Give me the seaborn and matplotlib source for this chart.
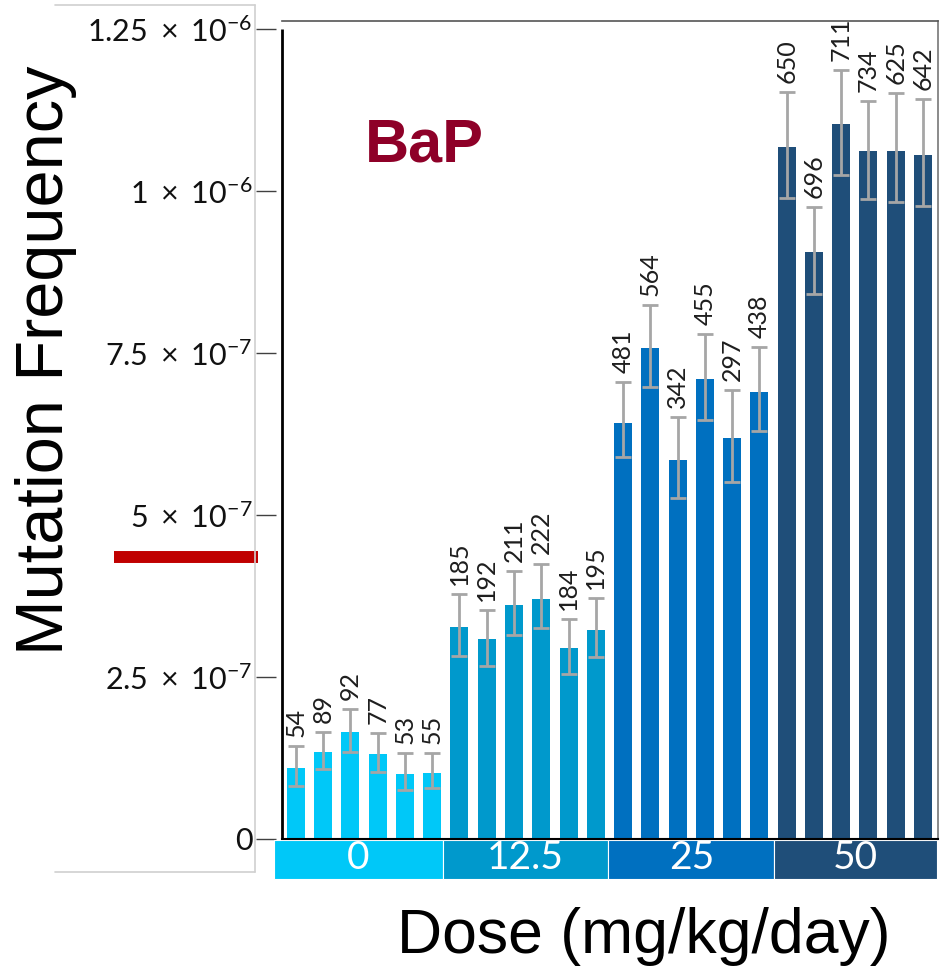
import numpy as np
import pandas as pd
import matplotlib
matplotlib.use("Agg")
import matplotlib.pyplot as plt
import matplotlib.transforms as mtransforms
from matplotlib.lines import Line2D
from matplotlib.patches import Rectangle
import seaborn as sns

# ---------------- data ----------------
doses = ["0", "12.5", "25", "50"]
dose_colors = ["#00C8F8", "#0099CC", "#0070C0", "#1F4E79"]
bars_per_dose = 6

freq = [1.10e-7, 1.34e-7, 1.65e-7, 1.31e-7, 1.00e-7, 1.02e-7,
        3.27e-7, 3.09e-7, 3.61e-7, 3.70e-7, 2.94e-7, 3.23e-7,
        6.42e-7, 7.58e-7, 5.84e-7, 7.10e-7, 6.18e-7, 6.90e-7,
        10.67e-7, 9.05e-7, 11.03e-7, 10.61e-7, 10.62e-7, 10.55e-7]
err_low = [0.82e-7, 1.08e-7, 1.34e-7, 1.03e-7, 0.76e-7, 0.79e-7,
           2.82e-7, 2.67e-7, 3.14e-7, 3.25e-7, 2.55e-7, 2.81e-7,
           5.89e-7, 6.98e-7, 5.26e-7, 6.47e-7, 5.51e-7, 6.29e-7,
           9.89e-7, 8.41e-7, 10.25e-7, 9.87e-7, 9.83e-7, 9.77e-7]
err_high = [1.43e-7, 1.65e-7, 2.00e-7, 1.64e-7, 1.33e-7, 1.33e-7,
            3.78e-7, 3.54e-7, 4.13e-7, 4.25e-7, 3.40e-7, 3.72e-7,
            7.05e-7, 8.24e-7, 6.51e-7, 7.79e-7, 6.93e-7, 7.59e-7,
            11.53e-7, 9.75e-7, 11.87e-7, 11.39e-7, 11.51e-7, 11.41e-7]
counts = [54, 89, 92, 77, 53, 55,
          185, 192, 211, 222, 184, 195,
          481, 564, 342, 455, 297, 438,
          650, 696, 711, 734, 625, 642]

yticks = [0, 2.5e-7, 5e-7, 7.5e-7, 1e-6, 1.25e-6]
ytick_labels = ["0",
                r"$2.5\ \times\ 10^{-7}$",
                r"$5\ \times\ 10^{-7}$",
                r"$7.5\ \times\ 10^{-7}$",
                r"$1\ \times\ 10^{-6}$",
                r"$1.25\ \times\ 10^{-6}$"]
threshold = 4.35e-7
title_text = "BaP"
xlabel_text = "Dose (mg/kg/day)"
ylabel_text = "Mutation Frequency"

# ---------------- style ----------------
sns.set_style("white")
plt.rcParams["font.family"] = ["Lato", "DejaVu Sans"]
plt.rcParams["mathtext.fontset"] = "custom"
plt.rcParams["mathtext.rm"] = "Lato"
plt.rcParams["mathtext.it"] = "Lato:italic"
plt.rcParams["mathtext.bf"] = "Lato:bold"
plt.rcParams["mathtext.default"] = "regular"

n = len(freq)
df = pd.DataFrame({
    "idx": np.arange(n),
    "freq": freq,
    "dose": np.repeat(doses, bars_per_dose),
})

W, H = 943, 968
fig = plt.figure(figsize=(W / 100, H / 100), dpi=100)
ax = fig.add_axes([282 / W, (H - 839) / H, (938 - 282) / W, (839 - 21) / H])

sns.barplot(data=df, x="idx", y="freq", hue="dose", hue_order=doses,
            palette=dose_colors, dodge=False, width=0.66, errorbar=None,
            legend=False, linewidth=0, saturation=1, ax=ax)

x = np.arange(n)
yerr = np.array([np.array(freq) - np.array(err_low),
                 np.array(err_high) - np.array(freq)])
ax.errorbar(x, freq, yerr=yerr, fmt="none", ecolor="#A6A6A6",
            elinewidth=2.0, capsize=5.5, capthick=2.0, zorder=3)

for xi, top, c in zip(x, err_high, counts):
    ax.annotate(str(c), (xi, top), xytext=(0, 6.5), textcoords="offset points",
                rotation=90, ha="center", va="bottom", fontsize=18,
                color="#1e1e1e")

ax.set_xlim(-0.51, 23.55)
ax.set_ylim(0, 1.262e-6)
ax.set_xlabel("")
ax.set_ylabel("")
ax.set_xticks([])
ax.set_yticks(yticks)
ax.set_yticklabels(ytick_labels)
ax.tick_params(axis="y", direction="out", length=14.4, width=1.0,
               color="#404040", pad=2.5, labelsize=22, labelcolor="#111111",
               left=True)

# spines
ax.spines["left"].set_position(("outward", 4.5))
ax.spines["left"].set_visible(False)
ax.spines["top"].set_color("#555555")
ax.spines["top"].set_linewidth(1.2)
ax.spines["right"].set_color("#777777")
ax.spines["right"].set_linewidth(1.2)
ax.spines["bottom"].set_color("black")
ax.spines["bottom"].set_linewidth(1.5)

# black left axis line up to last tick
tr_ay = mtransforms.blended_transform_factory(ax.transAxes, ax.transData)
ax.plot([0, 0], [0, yticks[-1]], transform=tr_ay, color="black", lw=2.0,
        clip_on=False, solid_capstyle="butt", zorder=5)

# dose band below axis
tr_xa = mtransforms.blended_transform_factory(ax.transData, ax.transAxes)
band_edges = [-0.8, 5.4, 11.45, 17.55, 23.5]
band_y0 = -40 / 818
band_h = 39 / 818
for i, (d, col) in enumerate(zip(doses, dose_colors)):
    x0, x1 = band_edges[i], band_edges[i + 1]
    ax.add_patch(Rectangle((x0, band_y0), x1 - x0, band_h, transform=tr_xa,
                           facecolor=col, edgecolor="white", linewidth=0.8,
                           clip_on=False, zorder=2))
    ax.text((x0 + x1) / 2, band_y0 + band_h / 2 + 0.002, d, transform=tr_xa,
            ha="center", va="center", color="white", fontsize=28,
            clip_on=False)

# threshold marker on the left
tr_fy = mtransforms.blended_transform_factory(fig.transFigure, ax.transData)
ax.plot([114 / W, 258 / W], [threshold, threshold], transform=tr_fy,
        color="#C00000", lw=8.6, solid_capstyle="butt", clip_on=False)

# light grey box around tick labels
box_col = "#D0D0D0"
fig.add_artist(Line2D([55 / W, 255 / W], [1 - 5 / H, 1 - 5 / H],
                      color=box_col, lw=1.2))
fig.add_artist(Line2D([255 / W, 255 / W], [1 - 5 / H, 1 - 872 / H],
                      color=box_col, lw=1.2))
fig.add_artist(Line2D([55 / W, 255 / W], [1 - 872 / H, 1 - 872 / H],
                      color=box_col, lw=1.2))

# texts
fig.text(46 / W, 1 - 360 / H, ylabel_text, rotation=90, ha="center",
         va="center", fontsize=48, family=["Liberation Sans", "DejaVu Sans"],
         color="black")
fig.text(644 / W, 1 - 953 / H, xlabel_text, ha="center", va="baseline",
         fontsize=45, family=["Liberation Sans", "DejaVu Sans"], color="black")
fig.text(365 / W, 1 - 162 / H, title_text, ha="left", va="baseline",
         fontsize=44, fontweight="bold",
         family=["Liberation Sans", "DejaVu Sans"], color="#8E0028")

fig.savefig("out.png", dpi=100)
